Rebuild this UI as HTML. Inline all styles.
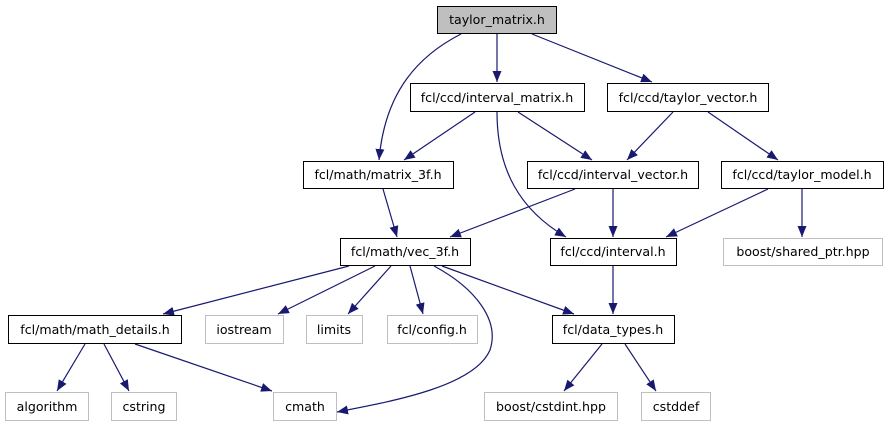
<!DOCTYPE html>
<html><head><meta charset="utf-8"><style>
html,body{margin:0;padding:0;background:#fff;width:888px;height:427px;overflow:hidden}
text{font-family:"DejaVu Sans","Liberation Sans",sans-serif;font-size:12.6px;fill:#000}
</style></head><body>
<svg width="888" height="427" viewBox="0 0 888 427" xmlns="http://www.w3.org/2000/svg">
<defs><marker id="a" markerWidth="11" markerHeight="9" refX="11" refY="4.5" orient="auto" markerUnits="userSpaceOnUse"><path d="M0,0 L11,4.5 L0,9 z" fill="#191970"/></marker></defs>
<g fill="none" stroke="#191970" stroke-width="1.2" marker-end="url(#a)">
<path d="M461,34 C420,55 385,90 379,160"/>
<path d="M497,34 L497,82"/>
<path d="M532,34 L652,82"/>
<path d="M475,112 L404,160"/>
<path d="M518,112 L592,160"/>
<path d="M497,112 C497,170 520,210 566,237"/>
<path d="M673,112 L627,160"/>
<path d="M708,112 L778,160"/>
<path d="M383,189 L397,237"/>
<path d="M575,189 L450,237"/>
<path d="M613,189 L613,237"/>
<path d="M768,189 L666,237"/>
<path d="M802,189 L802,237"/>
<path d="M349,266 L163,314"/>
<path d="M375,266 L278,314"/>
<path d="M391,266 L348,314"/>
<path d="M410,266 L423,314"/>
<path d="M434,266 C475,288 500,320 490,350 C475,385 400,400 337,412"/>
<path d="M442,266 L574,314"/>
<path d="M613,266 L613,314"/>
<path d="M85,344 L57,391"/>
<path d="M104,344 L129,391"/>
<path d="M135,344 L272,391"/>
<path d="M602,344 L564,391"/>
<path d="M625,344 L656,391"/>
</g>
<g stroke-width="1">
<rect x="437.5" y="6.5" width="119" height="27" fill="#bfbfbf" stroke="#000"/>
<rect x="410.5" y="83.5" width="174" height="28" fill="#fff" stroke="#000"/>
<rect x="607.5" y="83.5" width="161" height="28" fill="#fff" stroke="#000"/>
<rect x="303.5" y="161.5" width="150" height="27" fill="#fff" stroke="#000"/>
<rect x="527.5" y="161.5" width="171" height="27" fill="#fff" stroke="#000"/>
<rect x="721.5" y="161.5" width="162" height="27" fill="#fff" stroke="#000"/>
<rect x="340.5" y="238.5" width="130" height="27" fill="#fff" stroke="#000"/>
<rect x="550.5" y="238.5" width="126" height="27" fill="#fff" stroke="#000"/>
<rect x="723.5" y="238.5" width="159" height="27" fill="#fff" stroke="#bfbfbf"/>
<rect x="8.5" y="315.5" width="173" height="28" fill="#fff" stroke="#000"/>
<rect x="205.5" y="315.5" width="78" height="28" fill="#fff" stroke="#bfbfbf"/>
<rect x="306.5" y="315.5" width="56" height="28" fill="#fff" stroke="#bfbfbf"/>
<rect x="387.5" y="315.5" width="90" height="28" fill="#fff" stroke="#bfbfbf"/>
<rect x="552.5" y="315.5" width="122" height="28" fill="#fff" stroke="#000"/>
<rect x="5.5" y="392.5" width="83" height="28" fill="#fff" stroke="#bfbfbf"/>
<rect x="111.5" y="392.5" width="65" height="28" fill="#fff" stroke="#bfbfbf"/>
<rect x="273.5" y="392.5" width="63" height="28" fill="#fff" stroke="#bfbfbf"/>
<rect x="484.5" y="392.5" width="133" height="28" fill="#fff" stroke="#bfbfbf"/>
<rect x="641.5" y="392.5" width="69" height="28" fill="#fff" stroke="#bfbfbf"/>
</g>
<g text-anchor="middle">
<text x="497" y="24">taylor_matrix.h</text>
<text x="497" y="102">fcl/ccd/interval_matrix.h</text>
<text x="688" y="102">fcl/ccd/taylor_vector.h</text>
<text x="378" y="179">fcl/math/matrix_3f.h</text>
<text x="613" y="179">fcl/ccd/interval_vector.h</text>
<text x="802" y="179">fcl/ccd/taylor_model.h</text>
<text x="405" y="256">fcl/math/vec_3f.h</text>
<text x="613" y="256">fcl/ccd/interval.h</text>
<text x="803" y="256">boost/shared_ptr.hpp</text>
<text x="95" y="334">fcl/math/math_details.h</text>
<text x="244" y="334">iostream</text>
<text x="334" y="334">limits</text>
<text x="432" y="334">fcl/config.h</text>
<text x="613" y="334">fcl/data_types.h</text>
<text x="47" y="411">algorithm</text>
<text x="144" y="411">cstring</text>
<text x="305" y="411">cmath</text>
<text x="551" y="411">boost/cstdint.hpp</text>
<text x="676" y="411">cstddef</text>
</g>
</svg>
</body></html>
